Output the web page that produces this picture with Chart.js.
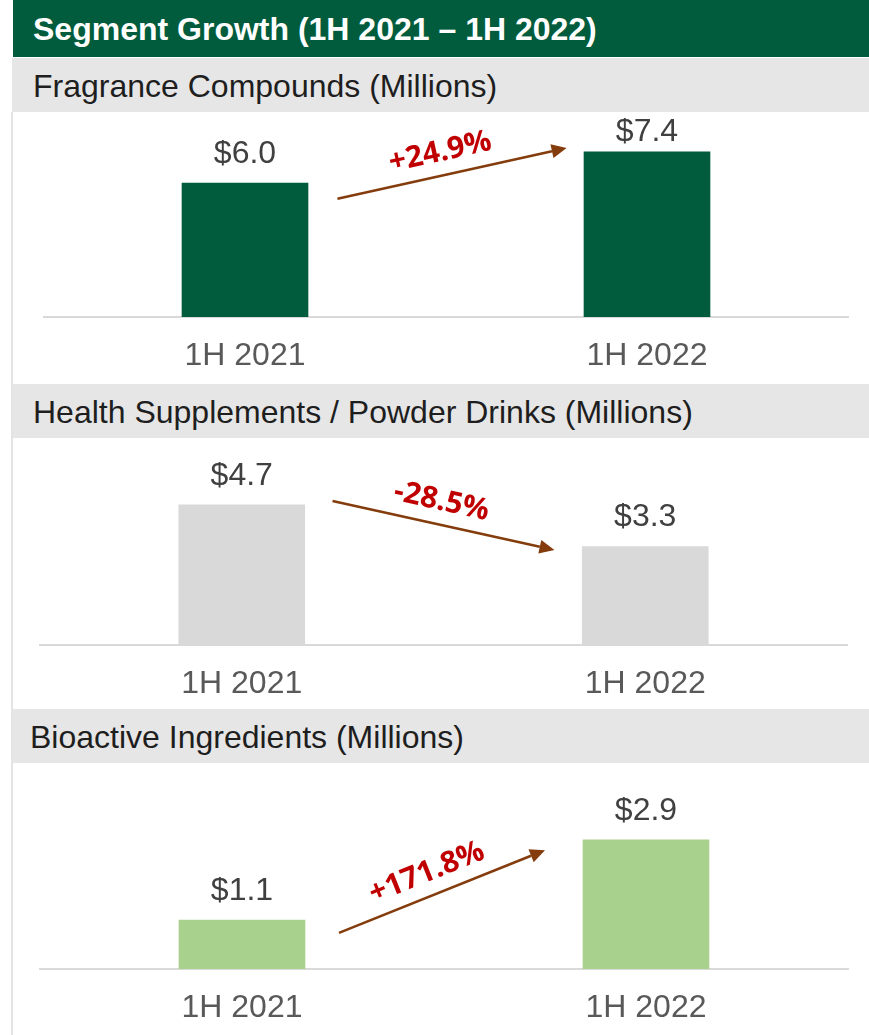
<!DOCTYPE html>
<html>
<head>
<meta charset="utf-8">
<script src="https://cdn.jsdelivr.net/npm/chart.js@4.4.0/dist/chart.umd.min.js"></script>
<style>
    body {
        margin: 0;
        width: 869px;
        height: 1035px;
        position: relative;
        background: #fff;
        overflow: hidden;
        font-family: "Liberation Sans", Arial, sans-serif;
    }
    .titulo {
        position: absolute;
        left: 13px; top: 0;
        width: 856px; height: 57px;
        background: #005C3C;
        color: #fff;
        font-weight: bold;
        font-size: 32px;
        line-height: 58px;
        padding-left: 20px;
        box-sizing: border-box;
        white-space: nowrap;
    }
    .banda {
        position: absolute;
        left: 12px;
        width: 857px; height: 54px;
        background: #E6E6E6;
        color: #1e1e1e;
        font-size: 32px;
        line-height: 56px;
        padding-left: 21px;
        box-sizing: border-box;
        white-space: nowrap;
    }
    .borde {
        position: absolute;
        left: 11px; top: 112px;
        width: 2px; height: 923px;
        background: #E4E4E4;
    }
    canvas { position: absolute; left: 13px; }
</style>
</head>
<body>
<div class="titulo">Segment Growth (1H 2021 – 1H 2022)</div>
<div class="banda" style="top:58px">Fragrance Compounds (Millions)</div>
<div class="banda" style="top:384px">Health Supplements / Powder Drinks (Millions)</div>
<div class="banda" style="top:709px; padding-left:18px">Bioactive Ingredients (Millions)</div>
<div class="borde"></div>
<canvas id="chart-fragancias" width="856" height="272" style="top:112px"></canvas>
<canvas id="chart-suplementos" width="856" height="272" style="top:437px"></canvas>
<canvas id="chart-bioactivos" width="856" height="273" style="top:762px"></canvas>

<script>
// Datos (millones USD)
const categorias = ['1H 2021', '1H 2022'];
const fraganciasValores = [6.0, 7.4];
const suplementosValores = [4.7, 3.3];
const bioactivosValores = [1.1, 2.9];
const crecimientoEtiquetas = ['+24.9%', '-28.5%', '+171.8%'];

// Flechas de crecimiento en unidades de datos: [índice de categoría, valor]
const flechaDesde = [[0.23, 5.3], [0.225, 4.83], [0.24, 0.81]];
const flechaHasta = [[0.80, 7.58], [0.775, 3.19], [0.75, 2.67]];

const paneles = [
    { id: 'chart-fragancias', valores: fraganciasValores, color: '#005C3C', yMax: 9.19,
      padding: { left: 31, right: 21, top: 0, bottom: 9 } },
    { id: 'chart-suplementos', valores: suplementosValores, color: '#D9D9D9', yMax: 6.98,
      padding: { left: 27, right: 22, top: 0, bottom: 6 } },
    { id: 'chart-bioactivos', valores: bioactivosValores, color: '#A9D18E', yMax: 4.65,
      padding: { left: 27, right: 21, top: 0, bottom: 8 } }
];

// Etiquetas de valor y flecha con el % de crecimiento
const anotaciones = {
    id: 'anotaciones',
    afterDatasetsDraw(chart, args, opts) {
        const ctx = chart.ctx;
        const area = chart.chartArea;
        const xs = chart.scales.x;
        const ys = chart.scales.y;

        ctx.save();
        ctx.font = '32px "Liberation Sans", Arial, sans-serif';
        ctx.fillStyle = '#404040';
        ctx.textAlign = 'center';
        ctx.textBaseline = 'middle';
        chart.getDatasetMeta(0).data.forEach((bar, i) => {
            const v = chart.data.datasets[0].data[i];
            const y = Math.max(bar.y - 29, area.top + 20);
            ctx.fillText('$' + v.toFixed(1), bar.x, y);
        });

        // flecha
        const x1 = xs.getPixelForValue(opts.desde[0]);
        const y1 = ys.getPixelForValue(opts.desde[1]);
        const x2 = xs.getPixelForValue(opts.hasta[0]);
        const y2 = ys.getPixelForValue(opts.hasta[1]);
        const ang = Math.atan2(y2 - y1, x2 - x1);
        const cos = Math.cos(ang), sin = Math.sin(ang);
        const punta = 15;
        const bx = x2 - punta * cos;
        const by = y2 - punta * sin;

        ctx.strokeStyle = '#843C0C';
        ctx.fillStyle = '#843C0C';
        ctx.lineWidth = 2.5;
        ctx.beginPath();
        ctx.moveTo(x1, y1);
        ctx.lineTo(bx, by);
        ctx.stroke();
        ctx.beginPath();
        ctx.moveTo(x2, y2);
        ctx.lineTo(bx + 7 * sin, by - 7 * cos);
        ctx.lineTo(bx - 7 * sin, by + 7 * cos);
        ctx.closePath();
        ctx.fill();

        // texto del % encima de la flecha (un poco antes del centro)
        const mx = (x1 + x2) / 2 + 23 * sin - 7 * cos;
        const my = (y1 + y2) / 2 - 23 * cos - 7 * sin;
        ctx.translate(mx, my);
        ctx.rotate(ang);
        ctx.font = 'bold 30px "Open Sans", sans-serif';
        ctx.fillStyle = '#C00000';
        ctx.fillText(opts.texto, 0, 0);
        ctx.restore();
    }
};

paneles.forEach((p, n) => {
    const ctx = document.getElementById(p.id).getContext('2d');
    new Chart(ctx, {
        type: 'bar',
        data: {
            labels: categorias,
            datasets: [{
                data: p.valores,
                backgroundColor: p.color,
                barThickness: 126
            }]
        },
        options: {
            responsive: false,
            animation: false,
            devicePixelRatio: 1,
            layout: { padding: p.padding },
            plugins: {
                legend: { display: false },
                tooltip: { enabled: false },
                anotaciones: {
                    desde: flechaDesde[n],
                    hasta: flechaHasta[n],
                    texto: crecimientoEtiquetas[n]
                }
            },
            scales: {
                x: {
                    grid: { display: false, drawTicks: false },
                    border: { display: true, color: '#D9D9D9', width: 2 },
                    ticks: {
                        color: '#595959',
                        padding: 20,
                        font: { family: '"Liberation Sans", Arial, sans-serif', size: 32 }
                    },
                    afterFit(scale) { scale.height = 58; }
                },
                y: { display: false, min: 0, max: p.yMax }
            }
        },
        plugins: [anotaciones]
    });
});
</script>
</body>
</html>
